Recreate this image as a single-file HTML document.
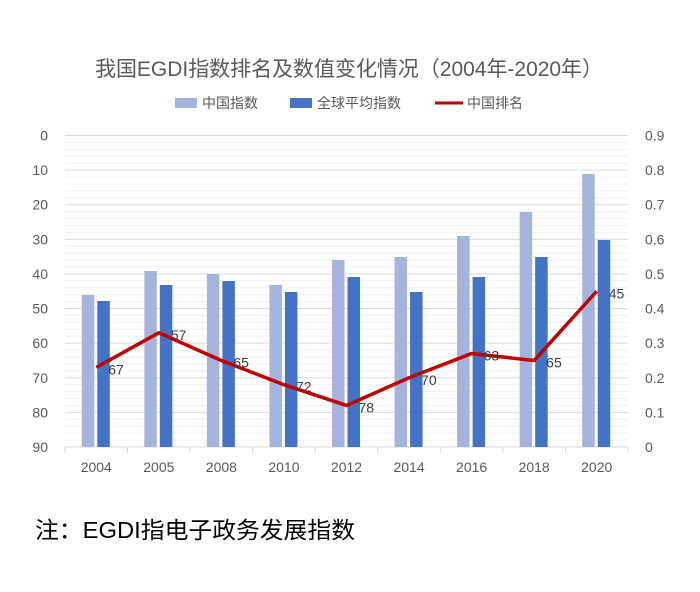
<!DOCTYPE html>
<html><head><meta charset="utf-8"><style>
body{margin:0;background:#fff;}
svg text{font-family:"Liberation Sans","Noto Sans CJK SC",sans-serif;}
</style></head><body>
<svg width="700" height="587" viewBox="0 0 700 587" xmlns="http://www.w3.org/2000/svg">
<rect width="700" height="587" fill="#fff"/>
<text x="349" y="76" text-anchor="middle" font-size="21" fill="#595959" textLength="508" lengthAdjust="spacingAndGlyphs">我国EGDI指数排名及数值变化情况（2004年-2020年）</text>
<rect x="175" y="98" width="22" height="10" fill="#a5b4dc"/>
<text x="202" y="108" font-size="14" fill="#595959">中国指数</text>
<rect x="290" y="98" width="22" height="10" fill="#4472c4"/>
<text x="317" y="108" font-size="14" fill="#595959">全球平均指数</text>
<line x1="435" y1="103" x2="463" y2="103" stroke="#c00000" stroke-width="3"/>
<text x="467" y="108" font-size="14" fill="#595959">中国排名</text>
</svg>
<script>
const ns="http://www.w3.org/2000/svg";
const svg=document.querySelector('svg');
function el(t,a,txt){const e=document.createElementNS(ns,t);for(const k in a)e.setAttribute(k,a[k]);if(txt!==undefined)e.textContent=txt;svg.appendChild(e);return e;}
const L=65,R=628,T=135.5,B=447,u=(B-T)/90;
for(let i=0;i<=90;i+=2){const y=T+i*u;el('line',{x1:L,x2:R,y1:y,y2:y,stroke:i%10==0?'#d9d9d9':'#f0f0f0','stroke-width':1});}
el('line',{x1:L,x2:R,y1:B,y2:B,stroke:'#d9d9d9'});
const cw=(R-L)/9;
for(let i=0;i<=9;i++){const x=L+i*cw;el('line',{x1:x,x2:x,y1:B,y2:B+6,stroke:'#d9d9d9'});}
for(let i=0;i<=9;i++){const y=T+i*10*u;
el('text',{x:48,y:y+5,'text-anchor':'end','font-size':14,fill:'#595959'},String(i*10));
el('text',{x:645,y:y+5,'font-size':14,fill:'#595959'},((9-i)/10).toFixed(1).replace('0.0','0'));}
const yrs=['2004','2005','2008','2010','2012','2014','2016','2018','2020'];
const lt=[295,271,274,285,260,257,236,212,174];
const dk=[301,285,281,292,277,292,277,257,240];
const rk=[67,57,65,72,78,70,63,65,45];
let pts=[];
yrs.forEach((y,i)=>{const c=L+cw*(i+0.5);
el('rect',{x:c-14.5,y:lt[i],width:12.5,height:B-lt[i],fill:'#a5b4dc'});
el('rect',{x:c+1,y:dk[i],width:12.5,height:B-dk[i],fill:'#4472c4'});
el('text',{x:c,y:472,'text-anchor':'middle','font-size':14,fill:'#595959'},y);
pts.push([c,T+rk[i]*u]);});
el('polyline',{points:pts.map(p=>p.join(',')).join(' '),fill:'none',stroke:'#c00000','stroke-width':3.5,'stroke-linejoin':'round'});
pts.forEach((p,i)=>el('text',{x:p[0]+12,y:p[1]+7,'font-size':14,fill:'#404040'},String(rk[i])));
el('text',{x:35,y:538,'font-size':23,fill:'#000',textLength:320,lengthAdjust:'spacingAndGlyphs'},'注：EGDI指电子政务发展指数');
</script>
</body></html>
